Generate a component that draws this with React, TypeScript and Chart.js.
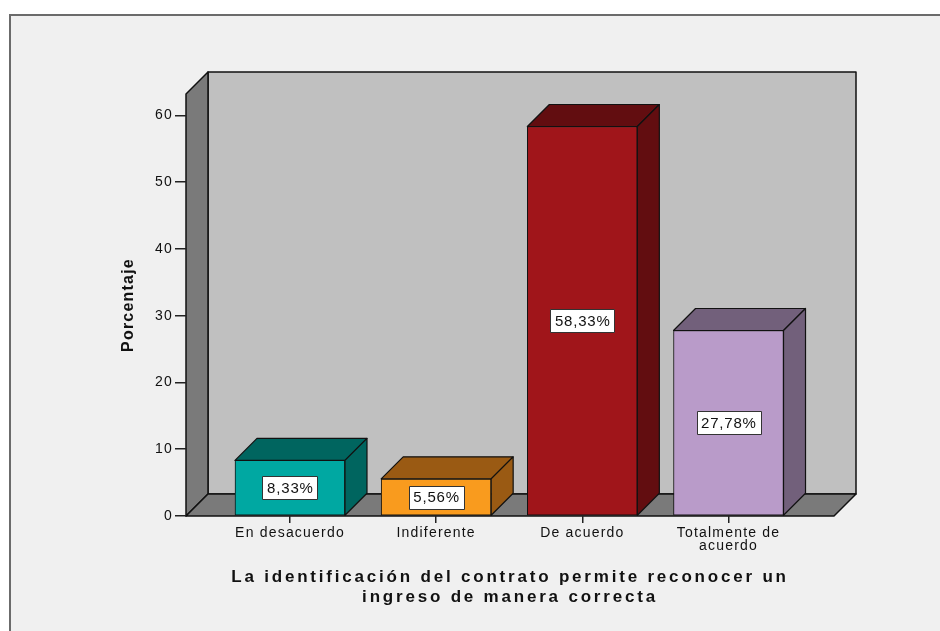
import React, { useEffect, useRef } from 'react';
import { Chart, registerables } from 'chart.js';

Chart.register(...registerables);

// ---- data ----
const categories = ['En desacuerdo', 'Indiferente', 'De acuerdo', 'Totalmente de acuerdo'];
const tickLabels = [['En desacuerdo'], ['Indiferente'], ['De acuerdo'], ['Totalmente de', 'acuerdo']];
const percentages = [8.33, 5.56, 58.33, 27.78];
const yTicks = [0, 10, 20, 30, 40, 50, 60];
const yTitle = 'Porcentaje';
const xTitle = ['La identificación del contrato permite reconocer un', 'ingreso de manera correcta'];

// ---- style ----
const frontColors = ['#00A8A2', '#F99B1E', '#A0151A', '#B99BC9'];
const sideColors = ['#00655F', '#9A5A13', '#620D10', '#72607B'];
const FONT = '"Liberation Sans", Arial, Helvetica, sans-serif';
const DEPTH = 22;

function poly(ctx: CanvasRenderingContext2D, pts: number[][], fill: string) {
  ctx.beginPath();
  ctx.moveTo(pts[0][0], pts[0][1]);
  for (let i = 1; i < pts.length; i++) ctx.lineTo(pts[i][0], pts[i][1]);
  ctx.closePath();
  ctx.fillStyle = fill;
  ctx.fill();
  ctx.stroke();
}

const scenePlugin = {
  id: 'scene3d',
  beforeDraw(chart: any) {
    const { ctx, chartArea: a, width, height } = chart;
    ctx.save();
    ctx.fillStyle = '#ffffff';
    ctx.fillRect(0, 0, width, height);
    ctx.fillStyle = '#F0F0F0';
    ctx.fillRect(10, 15, width - 10, height - 15);
    ctx.fillStyle = '#6b6b6b';
    ctx.fillRect(9, 14, 2, height - 14);
    ctx.fillRect(9, 14, width - 9, 2);
    const L = a.left, R = a.right, T = a.top, B = a.bottom, d = DEPTH;
    ctx.lineWidth = 1.5;
    ctx.strokeStyle = '#111';
    ctx.lineJoin = 'round';
    poly(ctx, [[L + d, T - d], [R + d, T - d], [R + d, B - d], [L + d, B - d]], '#C0C0C0');
    poly(ctx, [[L, T], [L + d, T - d], [L + d, B - d], [L, B]], '#7A7A7A');
    poly(ctx, [[L, B], [L + d, B - d], [R + d, B - d], [R, B]], '#7A7A7A');
    ctx.restore();
    (ctx as any).letterSpacing = '1.2px';
    const xs: any = chart.scales.x;
    if (xs && !xs._lsPatched) {
      const orig = xs.drawTitle;
      xs.drawTitle = function (...args: any[]) {
        const c: any = this.ctx;
        const prev = c.letterSpacing;
        c.letterSpacing = '2.8px';
        orig.apply(this, args);
        c.letterSpacing = prev;
      };
      xs._lsPatched = true;
    }
  },
  afterDatasetsDraw(chart: any) {
    const ctx: CanvasRenderingContext2D = chart.ctx;
    const meta = chart.getDatasetMeta(0);
    meta.data.forEach((bar: any, i: number) => {
      const { x, y, base, width } = bar.getProps(['x', 'y', 'base', 'width'], true);
      const l = x - width / 2, r = x + width / 2, d = DEPTH;
      ctx.save();
      ctx.strokeStyle = '#111';
      ctx.lineWidth = 1.2;
      ctx.lineJoin = 'round';
      poly(ctx, [[l, y], [l + d, y - d], [r + d, y - d], [r, y]], sideColors[i]);
      poly(ctx, [[r, y], [r + d, y - d], [r + d, base - d], [r, base]], sideColors[i]);
      const text = percentages[i].toFixed(2).replace('.', ',') + '%';
      ctx.font = `15px ${FONT}`;
      (ctx as any).letterSpacing = '0.8px';
      const tw = ctx.measureText(text).width;
      const bw = Math.round(tw + 8), bh = 23;
      const cy = (y + base) / 2;
      const bx = Math.round(x - bw / 2) + 0.5, by = Math.round(cy - bh / 2) + 0.5;
      ctx.fillStyle = '#ffffff';
      ctx.fillRect(bx, by, bw, bh);
      ctx.strokeStyle = '#333';
      ctx.lineWidth = 1;
      ctx.strokeRect(bx, by, bw, bh);
      ctx.fillStyle = '#111';
      ctx.textAlign = 'center';
      ctx.textBaseline = 'middle';
      ctx.fillText(text, x + 0.4, cy + 1);
      ctx.restore();
    });
  },
};

export default function App() {
  const ref = useRef<HTMLCanvasElement>(null);
  useEffect(() => {
    const chart = new Chart(ref.current as HTMLCanvasElement, {
      type: 'bar',
      data: {
        datasets: [
          {
            label: 'Porcentaje',
            data: percentages.map((v, i) => ({ x: i + 1, y: v })),
            backgroundColor: frontColors,
            borderColor: '#111',
            borderWidth: 1,
            borderSkipped: false,
            barThickness: 110,
          } as any,
        ],
      },
      options: {
        animation: false,
        responsive: false,
        devicePixelRatio: 1,
        layout: { padding: { left: 100, top: 94, right: 106, bottom: 0 } },
        plugins: { legend: { display: false }, tooltip: { enabled: false } },
        scales: {
          x: {
            type: 'linear',
            offset: false,
            min: 0.2886,
            max: 4.7216,
            afterBuildTicks: (s: any) => {
              s.ticks = categories.map((_, i) => ({ value: i + 1 }));
            },
            afterFit: (s: any) => {
              s.height = 115;
            },
            grid: { offset: false, drawOnChartArea: false, drawTicks: true, tickLength: 7, color: '#222', lineWidth: 1.5 },
            border: { display: false },
            ticks: {
              callback: (v: any) => tickLabels[Number(v) - 1] ?? '',
              font: { family: FONT, size: 14, lineHeight: '13px' },
              color: '#111',
              padding: 4,
              autoSkip: false,
              maxRotation: 0,
            },
            title: {
              display: true,
              text: xTitle,
              font: { family: FONT, size: 17, weight: 'bold', lineHeight: '20px' },
              color: '#111',
              padding: { top: 0, bottom: 24 },
            },
          } as any,
          y: {
            type: 'linear',
            min: 0,
            max: 63.2,
            afterBuildTicks: (s: any) => {
              s.ticks = yTicks.map((v) => ({ value: v }));
            },
            afterFit: (s: any) => {
              s.width = 86;
            },
            grid: { drawOnChartArea: false, drawTicks: true, tickLength: 11, color: '#222', lineWidth: 1.5 },
            border: { display: false },
            ticks: { font: { family: FONT, size: 14 }, color: '#111', padding: 2 },
            title: {
              display: true,
              text: yTitle,
              font: { family: FONT, size: 16, weight: 'bold', lineHeight: '18px' },
              color: '#111',
              padding: { top: 20, bottom: 0 },
            },
          } as any,
        },
      },
      plugins: [scenePlugin],
    });
    return () => chart.destroy();
  }, []);
  return (
    <div style={{ position: 'absolute', left: 0, top: 0, width: 940, height: 631 }}>
      <canvas ref={ref} width={940} height={631} style={{ display: 'block' }} />
    </div>
  );
}
